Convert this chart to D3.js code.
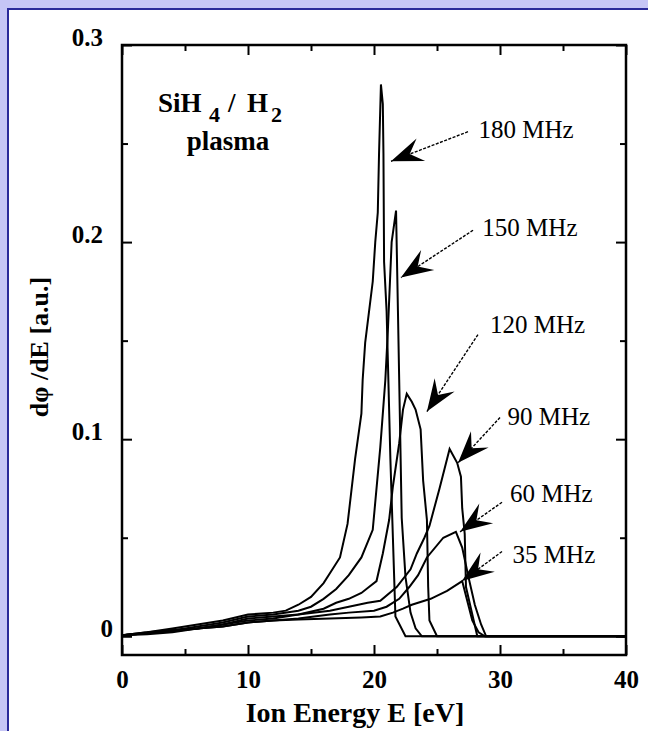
<!DOCTYPE html>
<html>
<head>
<meta charset="utf-8">
<script src="https://cdn.jsdelivr.net/npm/d3@7"></script>
<style>
  html, body { margin: 0; padding: 0; background: #fff; }
  svg { display: block; }
  text { font-family: "Liberation Serif", "Times New Roman", serif; }
</style>
</head>
<body>
<div id="chart"></div>
<script>
// ---- data ----
const energyTicks = [0, 10, 20, 30, 40];
const energyMinor = [5, 15, 25, 35];
const fluxTicks = [0, 0.1, 0.2, 0.3];
const fluxMinor = [0.05, 0.15, 0.25];

const freqLabels = ['180 MHz', '150 MHz', '120 MHz', '90 MHz', '60 MHz', '35 MHz'];

// [E (eV), dphi/dE (a.u.)]
const s180 = [[0,0.0005],[2,0.002],[4,0.004],[6,0.006],[8,0.008],[10,0.011],[12,0.012],[13,0.013],[14,0.016],
  [15,0.020],[16,0.027],[16.5,0.032],[17.3,0.040],[17.9,0.057],[18.5,0.090],[19.0,0.113],[19.1,0.130],
  [19.3,0.149],[19.9,0.180],[20.1,0.200],[20.3,0.215],[20.4,0.245],[20.55,0.280],[20.7,0.270],[20.75,0.245],
  [20.8,0.190],[21.0,0.165],[21.1,0.140],[21.3,0.090],[21.5,0.050],[21.7,0.010],[22.5,0],[40,0]];
const s150 = [[0,0.0005],[2,0.002],[4,0.003],[6,0.005],[8,0.007],[10,0.010],[12,0.011],[14,0.013],[15,0.015],
  [16,0.019],[17,0.024],[18,0.031],[19,0.040],[19.9,0.054],[20.5,0.096],[20.9,0.130],[21.1,0.155],[21.4,0.200],
  [21.75,0.216],[21.9,0.165],[22.0,0.130],[22.2,0.060],[22.5,0.030],[22.9,0.012],[23.3,0.004],[23.8,0],[40,0]];
const s120 = [[0,0.0005],[2,0.0015],[4,0.003],[6,0.004],[8,0.006],[10,0.009],[12,0.010],[14,0.011],[16,0.014],
  [17,0.017],[18,0.019],[19,0.022],[19.6,0.025],[20.2,0.028],[20.7,0.042],[21.2,0.059],[21.5,0.076],[22.0,0.098],
  [22.3,0.115],[22.6,0.123],[23.0,0.119],[23.3,0.115],[23.7,0.105],[23.9,0.079],[24.2,0.059],[24.3,0.025],
  [24.4,0.008],[25.0,0],[40,0]];
const s90 = [[0,0.0005],[2,0.0015],[4,0.003],[6,0.004],[8,0.006],[10,0.008],[12,0.009],[14,0.011],[16.5,0.013],
  [18,0.015],[19.5,0.017],[20.5,0.018],[21.8,0.025],[22.9,0.034],[23.4,0.042],[24.0,0.050],[24.4,0.056],
  [25.2,0.075],[25.6,0.085],[26.0,0.095],[26.6,0.088],[26.9,0.081],[27.0,0.065],[27.2,0.052],[27.3,0.025],
  [28.2,0],[40,0]];
const s60 = [[0,0.0005],[2,0.0015],[4,0.0025],[6,0.004],[8,0.005],[10,0.007],[12,0.008],[14,0.009],[16.5,0.011],
  [18,0.012],[20,0.013],[21,0.015],[22,0.019],[22.8,0.025],[23.5,0.031],[24.2,0.040],[25.5,0.050],[26.5,0.053],
  [27.0,0.045],[27.5,0.030],[28.0,0.016],[28.5,0.006],[28.9,0],[40,0]];
const s35 = [[0,0.0005],[2,0.001],[4,0.002],[6,0.004],[8,0.005],[10,0.007],[12,0.008],[14,0.0085],[16.5,0.009],
  [19,0.0095],[20.5,0.010],[21.5,0.012],[22.3,0.014],[23,0.016],[24.5,0.019],[25.8,0.023],[27.0,0.028],
  [27.4,0.018],[27.8,0.008],[28.3,0.002],[28.8,0],[40,0]];

const series = [s180, s150, s120, s90, s60, s35];

// annotation label anchors, arrow tails and arrow tips, in data units
const labelPos = [[28.3,0.253],[28.6,0.203],[29.2,0.154],[30.6,0.107],[30.8,0.068],[31.0,0.037]];
const arrowTail = [[27.46,0.256],[27.86,0.206],[28.25,0.153],[30.0,0.111],[30.16,0.068],[30.16,0.043]];
const arrowTip = [[21.35,0.241],[22.14,0.182],[24.2,0.114],[26.67,0.088],[26.83,0.053],[26.98,0.028]];

// ---- layout ----
const W = 648, H = 731;
const M = { left: 122, right: 626, top: 45, bottom: 655 };

const svg = d3.select('#chart').append('svg').attr('width', W).attr('height', H);

// slide frame (lavender strip + navy border)
svg.append('rect').attr('width', W).attr('height', H).attr('fill', '#c6c6f6');
svg.append('rect').attr('x', 8).attr('y', 9).attr('width', W).attr('height', H)
  .attr('fill', '#fff').attr('stroke', '#2a2a9a').attr('stroke-width', 2);

const x = d3.scaleLinear().domain([0, 40]).range([M.left, M.right]);
const y = d3.scaleLinear().domain([-0.0095, 0.3]).range([M.bottom, M.top]);

// ticks (inward) on all four sides
function ticks(axis, pos, vals, size, fmt) {
  const g = svg.append('g').attr('transform', pos)
    .call(axis.tickValues(vals).tickSizeInner(-size).tickSizeOuter(0).tickFormat(fmt));
  g.select('.domain').remove();
  g.selectAll('line').attr('stroke', '#000').attr('stroke-width', 2);
  return g;
}
const none = () => '';

const xAxis = ticks(d3.axisBottom(x).tickPadding(15), `translate(0,${M.bottom})`, energyTicks, 10, d3.format('d'));
ticks(d3.axisBottom(x), `translate(0,${M.bottom})`, energyMinor, 6, none);
ticks(d3.axisTop(x), `translate(0,${M.top})`, energyTicks, 10, none);
ticks(d3.axisTop(x), `translate(0,${M.top})`, energyMinor, 6, none);

const yAxis = ticks(d3.axisLeft(y).tickPadding(19), `translate(${M.left},0)`, fluxTicks, 10, d => d === 0 ? '0' : d3.format('.1f')(d));
ticks(d3.axisLeft(y), `translate(${M.left},0)`, fluxMinor, 6, none);
ticks(d3.axisRight(y), `translate(${M.right},0)`, fluxTicks, 10, none);
ticks(d3.axisRight(y), `translate(${M.right},0)`, fluxMinor, 6, none);

xAxis.selectAll('text').attr('font-size', 25).attr('font-weight', 'bold').attr('fill', '#000')
  .attr('font-family', '"Liberation Serif", serif');
yAxis.selectAll('text').attr('font-size', 25).attr('font-weight', 'bold').attr('fill', '#000')
  .attr('font-family', '"Liberation Serif", serif')
  .attr('dy', '0em')
  .attr('dx', d => d === 0 ? 10 : 0);

// plot frame
svg.append('rect')
  .attr('x', M.left).attr('y', M.top)
  .attr('width', M.right - M.left).attr('height', M.bottom - M.top)
  .attr('fill', 'none').attr('stroke', '#000').attr('stroke-width', 2.5);

// curves
const line = d3.line().x(d => x(d[0])).y(d => y(d[1]));
svg.append('g').selectAll('path').data(series).join('path')
  .attr('d', line)
  .attr('fill', 'none')
  .attr('stroke', '#000')
  .attr('stroke-width', 2)
  .attr('stroke-linejoin', 'miter');

// arrows + labels
const ann = svg.append('g');
freqLabels.forEach((lab, i) => {
  const tx = x(arrowTip[i][0]), ty = y(arrowTip[i][1]);
  const sx = x(arrowTail[i][0]), sy = y(arrowTail[i][1]);
  const ang = Math.atan2(sy - ty, sx - tx) * 180 / Math.PI;
  ann.append('line')
    .attr('x1', sx).attr('y1', sy).attr('x2', tx).attr('y2', ty)
    .attr('stroke', '#000').attr('stroke-width', 1.4).attr('stroke-dasharray', '3,1.5');
  ann.append('path')
    .attr('d', 'M0,0 L32,-12 L20,0 L32,12 Z')
    .attr('transform', `translate(${tx},${ty}) rotate(${ang})`)
    .attr('fill', '#000');
  ann.append('text')
    .attr('x', x(labelPos[i][0])).attr('y', y(labelPos[i][1]))
    .attr('font-size', 25).attr('fill', '#000')
    .text(lab);
});

// SiH4 / H2 plasma
const chem = svg.append('g').attr('font-weight', 'bold').attr('fill', '#000');
chem.append('text').attr('x', 158).attr('y', 112).attr('font-size', 27).text('SiH');
chem.append('text').attr('x', 209).attr('y', 122).attr('font-size', 22).text('4');
chem.append('text').attr('x', 228).attr('y', 112).attr('font-size', 27).text('/');
chem.append('text').attr('x', 247).attr('y', 112).attr('font-size', 27).text('H');
chem.append('text').attr('x', 271).attr('y', 122).attr('font-size', 22).text('2');
chem.append('text').attr('x', 228).attr('y', 150).attr('font-size', 27).attr('text-anchor', 'middle').text('plasma');

// axis titles
svg.append('text')
  .attr('x', (M.left + M.right) / 2 - 19).attr('y', 722)
  .attr('text-anchor', 'middle')
  .attr('font-size', 28).attr('font-weight', 'bold').attr('fill', '#000')
  .text('Ion Energy E [eV]');

svg.append('text')
  .attr('transform', 'translate(48,347) rotate(-90)')
  .attr('text-anchor', 'middle')
  .attr('font-size', 26).attr('font-weight', 'bold').attr('fill', '#000')
  .text('dφ /dE [a.u.]');
</script>
</body>
</html>
